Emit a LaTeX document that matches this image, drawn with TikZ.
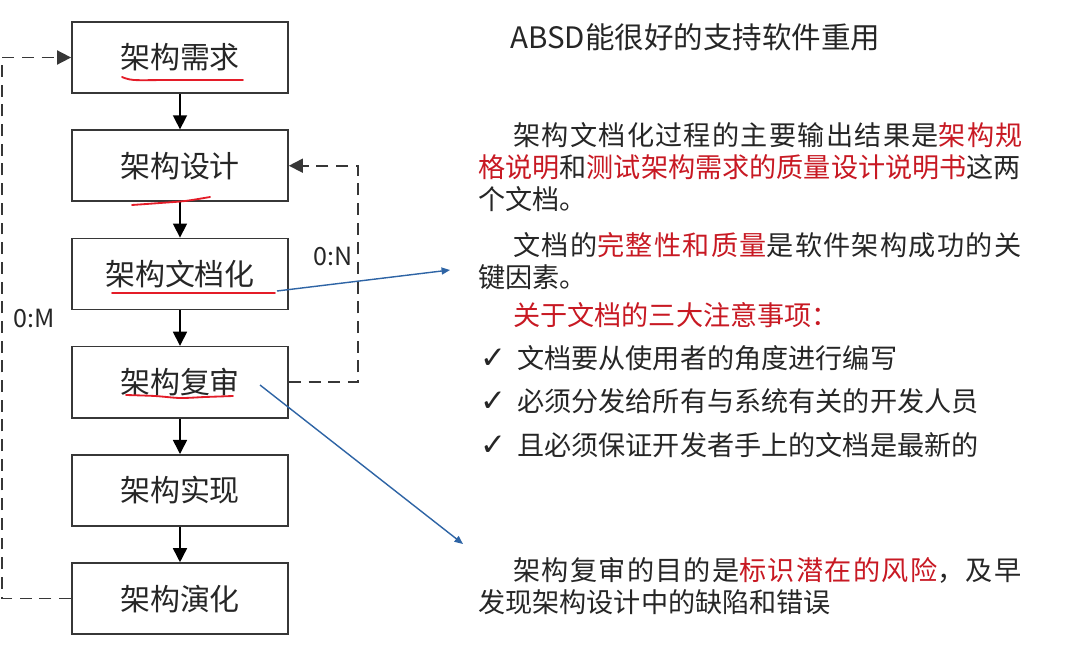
\documentclass[tikz,border=0pt]{standalone}
\usepackage{fontspec}
\setmainfont{Noto Sans CJK SC}
\newfontfamily\chkfont{DejaVu Sans}
\newfontfamily\widefont[LetterSpace=4.8]{Noto Sans CJK SC}
\usepackage{xcolor}
\usetikzlibrary{arrows.meta,positioning,calc}
\definecolor{ink}{RGB}{38,38,38}
\definecolor{hl}{RGB}{200,25,35}
\definecolor{pen}{RGB}{228,28,40}
\definecolor{lnk}{RGB}{46,100,165}
\definecolor{frame}{RGB}{55,55,55}
\newcommand\firstind{\hspace*{0.875cm}}
\newcommand\chk{\makebox[0.925cm][l]{\chkfont\fontsize{22}{22}\selectfont ✓}}
\tikzset{
  stage/.style={draw=frame,line width=1.2pt,minimum width=5.4cm,minimum height=1.775cm,inner sep=0pt,font=\fontsize{21.3}{24}\selectfont,text=ink},
  arr/.style={-{Triangle[length=10pt,width=10pt]},line width=1.1pt},
  fb/.style={-{Triangle[length=10pt,width=10pt]},line width=1.2pt,draw=frame,dash pattern=on 8.5pt off 5.5pt},
  ptr/.style={-{Triangle[length=6pt,width=5pt]},line width=1pt,draw=lnk},
  redline/.style={draw=pen,line width=1.3pt,line cap=round},
  lbl/.style={font=\fontsize{17.8}{20}\selectfont,text=ink,inner sep=0pt},
  txt/.style={font=\fontsize{19.3}{22.8}\selectfont,text=ink,inner sep=0pt,align=left},
}
\begin{document}
\begin{tikzpicture}[x=0.025cm,y=-0.025cm,node distance=0.8875cm]
\useasboundingbox (0,0) rectangle (1080,645);
\fill[white] (0,0) rectangle (1080,645);
% process column
\node[stage] (req) at (180,57.5) {架构需求};
\node[stage,below=of req] (des) {架构设计};
\node[stage,below=of des] (doc) {架构文档化};
\node[stage,below=of doc] (rev) {架构复审};
\node[stage,below=of rev] (impl) {架构实现};
\node[stage,below=of impl] (evo) {架构演化};
\foreach \a/\b in {req/des,des/doc,doc/rev,rev/impl,impl/evo}
  \draw[arr] (\a) -- (\b);
% feedback loops
\draw[fb] (evo.west) -- ++(-69,0) |- (req.west);
\draw[fb] (rev.east) -- ++(69,0) |- (des.east);
\node[lbl] (m) at (34,318) {0:M};
\node[lbl] (n) at (333,256) {0:N};
% hand marks
\draw[redline] plot[smooth] coordinates {(122,77) (134,80) (170,80) (243,80)};
\draw[redline] plot[smooth] coordinates {(132,205) (160,203) (185,201) (210,197)};
\draw[redline] (112,293) -- (275,293);
\draw[redline] plot[smooth] coordinates {(126,395) (155,396) (180,398) (205,397) (233,396)};
\coordinate (docend) at (277,291);
\coordinate (docnote) at (450,270);
\coordinate (revend) at (260,385);
\coordinate (revnote) at (463,544);
\draw[ptr] (docend) -- (docnote);
\draw[ptr] (revend) -- (revnote);
% notes
\node[txt,font=\fontsize{21}{24}\selectfont,anchor=west] (title) at (510,37) {ABSD能很好的支持软件重用};
\node[txt,anchor=north west] (out) at (478,122) {\firstind{\widefont 架构文档化过程的主要输出结果是\textcolor{hl}{架构规}}\\\textcolor{hl}{格说明}和\textcolor{hl}{测试架构需求的质量设计说明书}这两\\个文档。};
\node[txt,anchor=north west] (key) at (478,232) {\firstind{\widefont 文档的\textcolor{hl}{完整性和质量}是软件架构成功的关}\\键因素。};
\node[txt,anchor=west,text=hl] (tips) at (513,315) {关于文档的三大注意事项：};
\node[txt,anchor=north west,font=\fontsize{19.3}{30.9}\selectfont] (list) at (480,345) {\chk 文档要从使用者的角度进行编写\\\chk 必须分发给所有与系统有关的开发人员\\\chk 且必须保证开发者手上的文档是最新的};
\node[txt,anchor=north west] (aim) at (478,557) {\firstind{\widefont 架构复审的目的是\textcolor{hl}{标识潜在的风险}，及早}\\发现架构设计中的缺陷和错误};
\end{tikzpicture}
\end{document}
